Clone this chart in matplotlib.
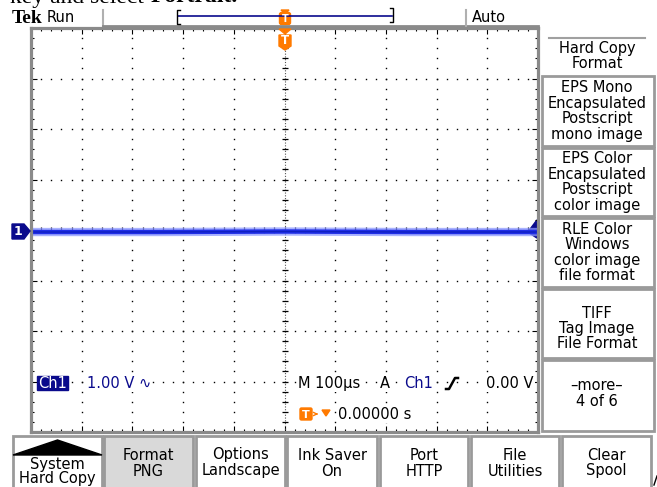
import numpy as np
import matplotlib
matplotlib.use('Agg')
from matplotlib import pyplot as plt
from matplotlib.patches import Rectangle, Polygon, FancyBboxPatch

# scope settings / readout values
volts_per_div = 1.00
time_per_div = '100\u00b5s'
trig_level = '0.00 V'
trig_delay = '0.00000 s'

# trace samples (divisions, volts)
trace_t = [0.0, 2.5, 5.0, 7.5, 10.0]
trace_v = [-0.04, -0.04, -0.03, -0.04, -0.04]

# right side menu
side_title = ['Hard Copy', 'Format']
side_items = [['EPS Mono', 'Encapsulated', 'Postscript', 'mono image'],
              ['EPS Color', 'Encapsulated', 'Postscript', 'color image'],
              ['RLE Color', 'Windows', 'color image', 'file format'],
              ['TIFF', 'Tag Image', 'File Format'],
              ['\u2013more\u2013', '4 of 6']]
side_y = [(76, 146), (148, 216), (218, 287), (289, 358), (360, 431)]

# bottom menu
bottom_items = [['System', 'Hard Copy'], ['Format', 'PNG'], ['Options', 'Landscape'],
                ['Ink Saver', 'On'], ['Port', 'HTTP'], ['File', 'Utilities'],
                ['Clear', 'Spool']]
bottom_x = [(13, 102), (104, 193), (196, 285), (287, 377), (380, 468), (471, 559), (562, 651)]

W, H = 657, 487
blue = '#1f2ee8'
navy = '#0a0a8c'
orange = '#ff7a00'
grey = '#8a8a8a'
fs = 10.5
wbox = dict(fc='white', ec='none', pad=0.5)

fig = plt.figure(figsize=(W / 100, H / 100), dpi=100)
bg = fig.add_axes([0, 0, 1, 1])
bg.set_xlim(0, W)
bg.set_ylim(H, 0)
bg.axis('off')

# graticule area
gl, gt, gr, gb = 31, 28, 538, 432
ax = fig.add_axes([gl / W, (H - gb) / H, (gr - gl) / W, (gb - gt) / H])
ax.set_xlim(0, 10)
ax.set_ylim(-4, 4)
for s in ax.spines.values():
    s.set_color(grey)
    s.set_linewidth(2.3)
ax.set_xticks(np.arange(0, 11, 1))
ax.set_yticks(np.arange(-4, 5, 1))
ax.set_xticks(np.arange(0, 10.01, 0.2), minor=True)
ax.set_yticks(np.arange(-4, 4.01, 0.2), minor=True)
ax.tick_params(which='both', direction='in', top=True, right=True,
               labelbottom=False, labelleft=False, color='black', width=0.8)
ax.tick_params(which='major', length=4)
ax.tick_params(which='minor', length=2.2)

dots = np.arange(-4, 4.01, 0.2)
for xi in [1, 2, 3, 4, 6, 7, 8, 9]:
    ax.plot(np.full(dots.size, xi), dots, ls='none', marker='s', ms=1.0, mec='none', color='black')
hdots = np.arange(0, 10.01, 0.2)
for yi in [-3, -2, -1, 1, 2, 3]:
    ax.plot(hdots, np.full(hdots.size, yi), ls='none', marker='s', ms=1.0, mec='none', color='black')
# center cross
ax.axvline(5, color='#555555', lw=0.8, ls=(0, (1, 1.5)))
ax.axhline(0, color='#555555', lw=0.8, ls=(0, (1, 1.5)))
ax.plot(np.full(dots.size, 5), dots, ls='none', marker='_', ms=4.5, mew=0.9, color='black')
ax.plot(hdots, np.zeros(hdots.size), ls='none', marker='|', ms=4.5, mew=0.9, color='black')

# trace
ax.plot(trace_t, trace_v, color='#8c98ff', lw=6.0, alpha=0.75, solid_capstyle='butt')
ax.plot(trace_t, trace_v, color=blue, lw=3.2, solid_capstyle='butt')
ax.plot(trace_t, trace_v, color='#1020c0', lw=1.0, solid_capstyle='butt')
# trigger level arrow at right edge
ax.add_patch(Polygon([[9.98, -0.16], [9.98, 0.2], [9.8, -0.04]], closed=True,
                     color=navy, clip_on=False))

# overlay for readouts drawn above graticule
ov = fig.add_axes([0, 0, 1, 1])
ov.set_xlim(0, W)
ov.set_ylim(H, 0)
ov.axis('off')
ov.patch.set_alpha(0)

# channel marker on left
ov.add_patch(Polygon([[12, 224], [24, 224], [30, 231], [24, 239], [12, 239]], closed=True, color=navy))
ov.text(18, 231.5, '1', color='white', fontsize=9, fontweight='bold', ha='center', va='center')

# top instruction text (cut off at the top edge, as in the source page)
bg.text(150, 2.5, 'key and select ', family='Liberation Serif', fontsize=17, ha='right', va='baseline')
bg.text(151, 2.5, 'Portrait.', family='Liberation Serif', fontsize=17, fontweight='bold', ha='left', va='baseline')

# status line
bg.text(12, 23, 'Tek', family='Liberation Serif', fontsize=14, fontweight='bold', va='baseline')
bg.text(47, 22, 'Run', fontsize=fs, va='baseline')
bg.plot([103, 103], [10, 26], color='#b0b0b0', lw=1.5)
bg.plot([103, 538], [26, 26], color=grey, lw=2.0)
bg.plot([466, 466], [10, 26], color='#b0b0b0', lw=1.5)
bg.text(472, 22, 'Auto', fontsize=fs, va='baseline')
bg.plot([178, 392], [16, 16], color=navy, lw=1.2)
bg.plot([180, 177, 177, 180], [10, 10, 24, 24], color='black', lw=1.0)
bg.plot([390, 393, 393, 390], [8, 8, 22, 22], color='black', lw=1.0)
bg.add_patch(Polygon([[281, 10], [289, 10], [285, 14]], closed=True, color=orange))
bg.add_patch(FancyBboxPatch((280, 13), 10, 11, boxstyle='round,pad=0.5,rounding_size=2', color=orange))
bg.text(285, 19, 'T', color='white', fontsize=7, fontweight='bold', ha='center', va='center')

# trigger position marker below top border
ov.add_patch(Polygon([[279, 29], [291, 29], [285, 34]], closed=True, color=orange))
ov.add_patch(Polygon([[279, 35], [291, 35], [291, 46], [285, 50], [279, 46]], closed=True, color=orange))
ov.text(285, 41, 'T', color='white', fontsize=8.5, fontweight='bold', ha='center', va='center')

# readouts inside graticule
ov.add_patch(Rectangle((37, 376), 31, 14, color=navy))
ov.text(52.5, 383.5, 'Ch1', color='white', fontsize=fs, ha='center', va='center')
ov.text(87, 383.5, '%.2f V \u223f' % volts_per_div, color=navy, fontsize=fs, va='center', bbox=wbox)
ov.text(298, 383.5, 'M ' + time_per_div, fontsize=fs, va='center', bbox=wbox)
ov.text(380, 383.5, 'A', fontsize=fs, va='center', bbox=wbox)
ov.text(404, 383.5, 'Ch1', color=navy, fontsize=fs, va='center', bbox=wbox)
ov.plot([446, 449, 455, 458], [389, 389, 378, 378], color='black', lw=1.8)
ov.text(534, 383.5, trig_level, fontsize=fs, ha='right', va='center', bbox=wbox)
ov.add_patch(FancyBboxPatch((300.5, 408.5), 11, 11, boxstyle='round,pad=0.5,rounding_size=1.5', color=orange))
ov.text(306, 414.5, 'T', color='white', fontsize=8, fontweight='bold', ha='center', va='center')
ov.annotate('', xy=(321, 414), xytext=(313, 414),
            arrowprops=dict(arrowstyle='->', color=orange, lw=1.0, mutation_scale=6))
ov.add_patch(Polygon([[322, 410], [330, 410], [326, 416]], closed=True, color=orange))
ov.text(338, 414.5, trig_delay, fontsize=fs, va='center', bbox=wbox)

# side menu
lh = 15.5
bg.plot([549, 645], [38, 38], color='#a0a0a0', lw=1.5)
for k, t in enumerate(side_title):
    bg.text(597, 48 + k * lh, t, fontsize=fs, ha='center', va='center')
for (y0, y1), lines in zip(side_y, side_items):
    bg.add_patch(Rectangle((542, y0), 112, y1 - y0, fill=False, ec='#9a9a9a', lw=2.0))
    n = len(lines)
    if n == 4:
        yc = (y0 + y1) / 2
    elif n == 3:
        yc = (y0 + y1) / 2 + 5
    else:
        yc = (y0 + y1) / 2 - 2
    for k, t in enumerate(lines):
        bg.text(597, yc + (k - (n - 1) / 2) * lh, t, fontsize=fs, ha='center', va='center')

# bottom menu
for i, ((x0, x1), lines) in enumerate(zip(bottom_x, bottom_items)):
    fc = '#d9d9d9' if i == 1 else 'white'
    bg.add_patch(Rectangle((x0, 436), x1 - x0, 60, fc=fc, ec='#9a9a9a', lw=2.0))
    xc = (x0 + x1) / 2
    if i == 0:
        bg.add_patch(Polygon([[x0, 455], [x1, 455], [xc, 440]], closed=True, color='black'))
        ys = [464, 479]
    else:
        ys = [455, 471]
    for y, t in zip(ys, lines):
        bg.text(xc, y, t, fontsize=fs, ha='center', va='center')
bg.plot([654, 657], [485, 476], color='black', lw=1.0)

fig.savefig('out.png', dpi=100)
